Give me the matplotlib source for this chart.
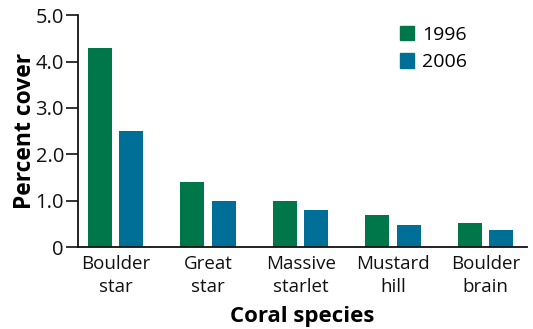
import numpy as np
import matplotlib
matplotlib.use("Agg")
import matplotlib.pyplot as plt
from matplotlib.patches import Patch

species = ["Boulder\nstar", "Great\nstar", "Massive\nstarlet", "Mustard\nhill", "Boulder\nbrain"]
cover_1996 = [4.3, 1.4, 1.0, 0.7, 0.52]
cover_2006 = [2.5, 1.0, 0.8, 0.48, 0.37]
years = ["1996", "2006"]
yticks = [0, 1.0, 2.0, 3.0, 4.0, 5.0]
ytick_labels = ["0", "1.0", "2.0", "3.0", "4.0", "5.0"]

green = "#00774a"
blue = "#006f98"

plt.rcParams["font.family"] = ["Open Sans", "DejaVu Sans"]

fig = plt.figure(figsize=(5.33, 3.29), dpi=100)
ax = fig.add_axes([0.146, 0.249, 0.843, 0.705])

x = np.arange(len(species))
w = 0.26
off = 0.17
ax.bar(x - off, cover_1996, w, color=green, label=years[0])
ax.bar(x + off, cover_2006, w, color=blue, label=years[1])

ax.set_xlim(-0.41, 4.45)
ax.set_ylim(0, 5.0)
ax.set_yticks(yticks)
ax.set_yticklabels(ytick_labels)
ax.set_xticks(x)
ax.set_xticklabels(species, fontsize=13.5, linespacing=1.35)
ax.tick_params(axis="x", length=0, pad=6, colors="#111111")
ax.tick_params(axis="y", length=9, width=1.2, labelsize=14.5, pad=1, colors="#111111")

for s in ["top", "right"]:
    ax.spines[s].set_visible(False)
for s in ["left", "bottom"]:
    ax.spines[s].set_linewidth(1.3)
    ax.spines[s].set_color("#111111")

ax.set_ylabel("Percent cover", fontsize=16.5, fontweight="bold", labelpad=-1)
ax.set_xlabel("Coral species", fontsize=16, fontweight="bold", labelpad=7)

handles = [Patch(color=green, label=years[0]), Patch(color=blue, label=years[1])]
ax.legend(handles=handles, loc="upper right", bbox_to_anchor=(0.905, 1.03),
          frameon=False, fontsize=14, handlelength=0.75, handleheight=0.75,
          handletextpad=0.4, labelspacing=0.5)

fig.savefig("out.png", dpi=100)
